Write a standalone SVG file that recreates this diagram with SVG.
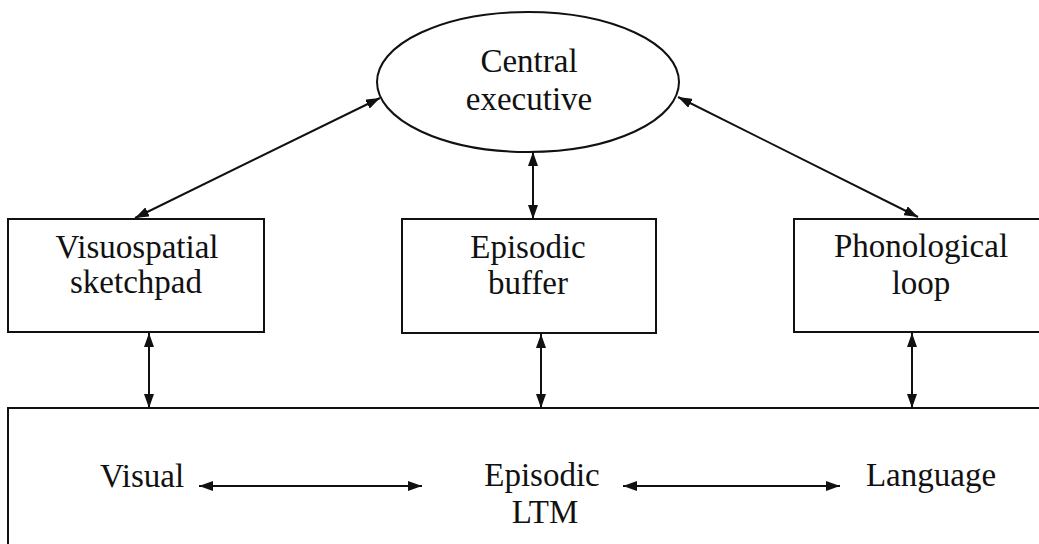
<svg xmlns="http://www.w3.org/2000/svg" width="1039" height="544" viewBox="0 0 1039 544">
<style>
.box{fill:#fff;stroke:#111;stroke-width:2}
.t{font-family:"Liberation Serif","Times New Roman",serif;font-size:33px;fill:#111;text-anchor:middle}
.c{stroke:#111;stroke-width:2;fill:none;marker-start:url(#ah);marker-end:url(#ah)}
</style>
<defs>
<marker id="ah" viewBox="0 0 14 10" refX="14" refY="5" markerWidth="14" markerHeight="10" markerUnits="userSpaceOnUse" orient="auto-start-reverse">
<path d="M0,0 L14,5 L0,10 Z" fill="#111"/>
</marker>
</defs>
<rect width="1039" height="544" fill="#fff"/>
<g id="ltm">
<rect class="box" x="8" y="408" width="1060" height="160"/>
<text class="t" x="142" y="487">Visual</text>
<text class="t" x="542" y="486">Episodic</text>
<text class="t" x="545" y="523">LTM</text>
<text class="t" x="931" y="486">Language</text>
</g>
<g id="central">
<ellipse class="box" cx="528" cy="82" rx="151" ry="70"/>
<text class="t" x="529" y="72">Central</text>
<text class="t" x="529" y="110">executive</text>
</g>
<g id="sketchpad">
<rect class="box" x="8" y="219" width="256" height="113"/>
<text class="t" x="137" y="258">Visuospatial</text>
<text class="t" x="136" y="293">sketchpad</text>
</g>
<g id="buffer">
<rect class="box" x="402" y="219" width="254" height="114"/>
<text class="t" x="528" y="258">Episodic</text>
<text class="t" x="528" y="294">buffer</text>
</g>
<g id="phono">
<rect class="box" x="794" y="219" width="270" height="113"/>
<text class="t" x="921" y="257">Phonological</text>
<text class="t" x="921" y="294">loop</text>
</g>
<g id="connectors">
<line class="c" x1="380" y1="98" x2="135" y2="218"/>
<line class="c" x1="678" y1="97" x2="918" y2="217"/>
<line class="c" x1="533" y1="152" x2="533" y2="219"/>
<line class="c" x1="149" y1="333" x2="149" y2="408"/>
<line class="c" x1="541" y1="334" x2="541" y2="408"/>
<line class="c" x1="912" y1="333" x2="912" y2="408"/>
<line class="c" x1="199" y1="486" x2="422" y2="486"/>
<line class="c" x1="623" y1="486" x2="840" y2="486"/>
</g>
</svg>
